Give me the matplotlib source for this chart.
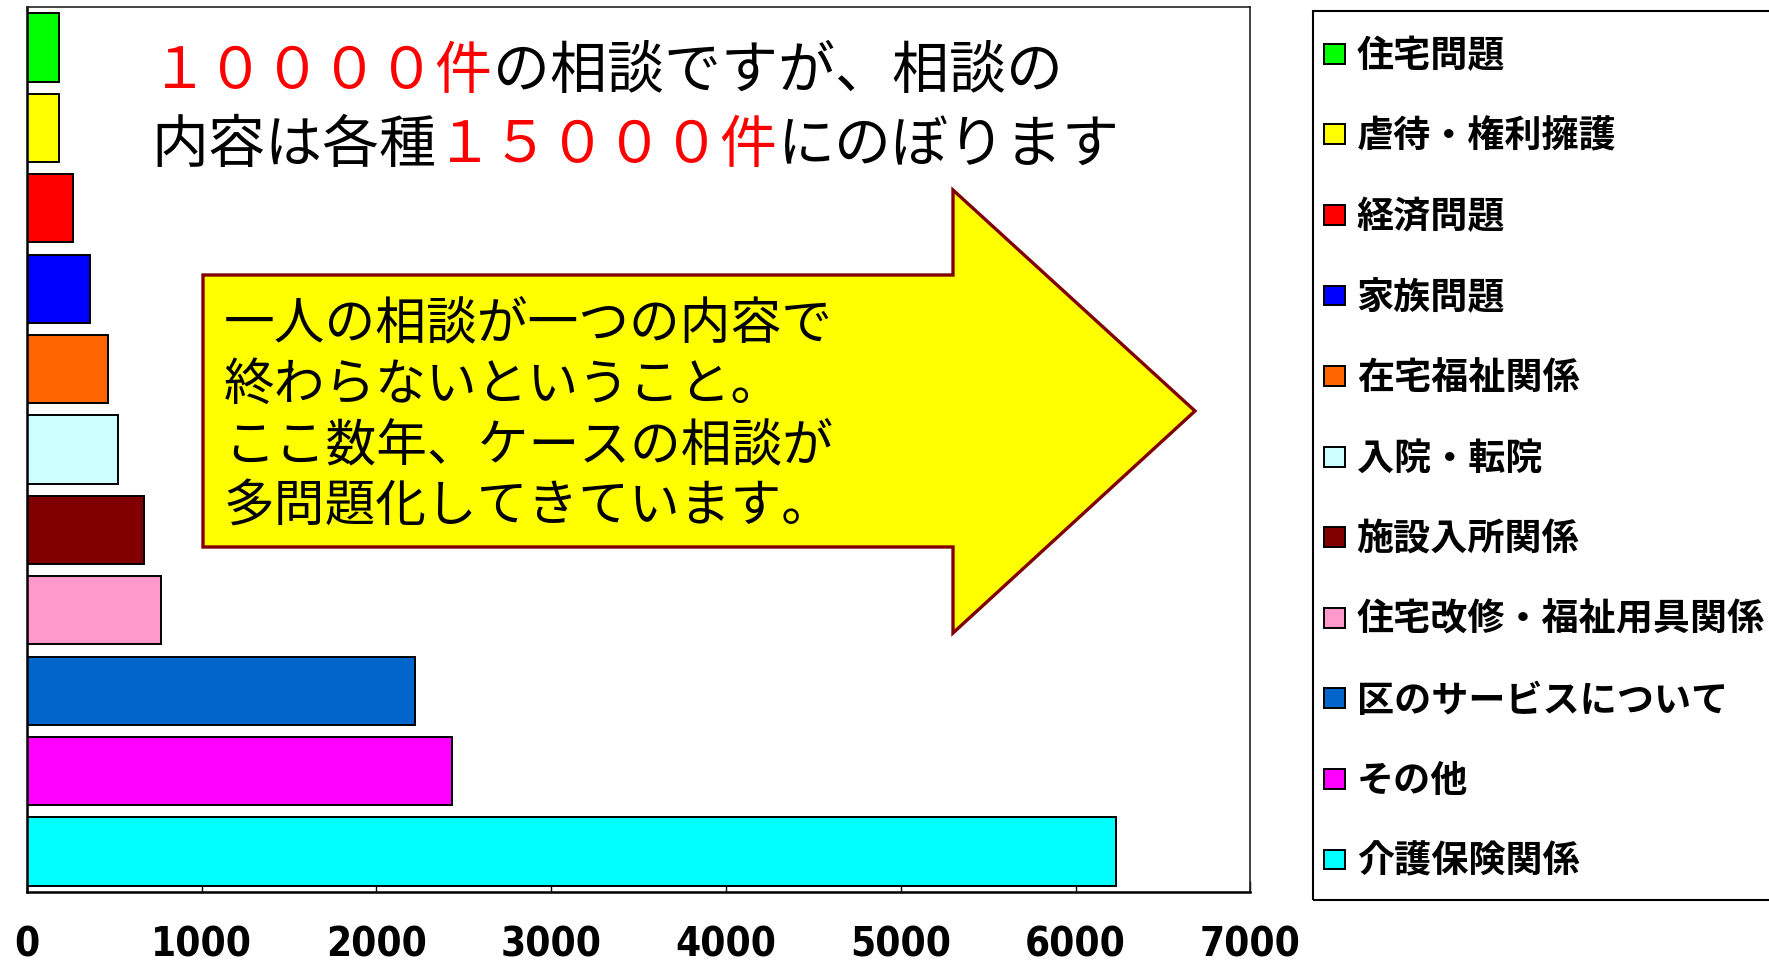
import matplotlib
matplotlib.use('Agg')
import matplotlib.pyplot as plt
from matplotlib import font_manager
from matplotlib.font_manager import FontProperties
from matplotlib.patches import Polygon, Rectangle

# ---------------- data ----------------
categories = ['住宅問題', '虐待・権利擁護', '経済問題', '家族問題', '在宅福祉関係',
              '入院・転院', '施設入所関係', '住宅改修・福祉用具関係',
              '区のサービスについて', 'その他', '介護保険関係']
values = [183, 183, 263, 364, 465, 521, 669, 770, 2220, 2431, 6232]
colors = ['#00FF00', '#FFFF00', '#FF0000', '#0000FF', '#FF6600', '#CCFFFF',
          '#800000', '#FF99CC', '#0066CC', '#FF00FF', '#00FFFF']
xticks = [0, 1000, 2000, 3000, 4000, 5000, 6000, 7000]
xtick_labels = ['0', '1000', '2000', '3000', '4000', '5000', '6000', '7000']

title_line1 = [('１００００件', '#FF0000'), ('の相談ですが、相談の', '#000000')]
title_line2 = [('内容は各種', '#000000'), ('１５０００件', '#FF0000'), ('にのぼります', '#000000')]
arrow_lines = ['一人の相談が一つの内容で', '終わらないということ。',
               'ここ数年、ケースの相談が', '多問題化してきています。']

# ---------------- fonts ----------------
names = {f.name for f in font_manager.fontManager.ttflist}
if 'Liberation Sans Narrow' in names:
    tick_fp = FontProperties(family='Liberation Sans Narrow', weight='bold', size=31)
else:
    tick_fp = FontProperties(family='DejaVu Sans', stretch='condensed', weight='bold', size=29)

JP = 'Noto Sans CJK JP'

W, H = 1769, 965
fig = plt.figure(figsize=(W / 100, H / 100), dpi=100)
fig.patch.set_facecolor('white')

ax_l, ax_r, ax_t, ax_b = 26.7, 1250.3, 7.3, 891.7
ax = fig.add_axes([ax_l / W, 1 - ax_b / H, (ax_r - ax_l) / W, (ax_b - ax_t) / H])

n = len(categories)
ypos = list(range(n))
bars = ax.barh(ypos, values, height=0.85, color=colors, edgecolor='black',
               linewidth=1.4, zorder=2)
ax.set_ylim(n - 0.5, -0.5)
ax.set_xlim(xticks[0], xticks[-1])
ax.set_yticks([])
ax.set_xticks(xticks)
ax.set_xticklabels(xtick_labels, fontproperties=tick_fp)
ax.tick_params(axis='x', direction='in', length=8, width=1, pad=24, colors='black')
for side in ['left', 'bottom']:
    ax.spines[side].set_linewidth(1.8)
for side in ['top', 'right']:
    ax.spines[side].set_linewidth(1.2)
    ax.spines[side].set_color('#222222')

# ---------------- title text with coloured runs ----------------
def draw_runs(x, y, runs, size):
    t = ax.text(x, y, runs[0][0], color=runs[0][1], transform=ax.transAxes,
                ha='left', va='center', family=JP, fontsize=size, zorder=5)
    for s, c in runs[1:]:
        t = ax.annotate(s, xy=(1, 0), xycoords=t, ha='left', va='bottom',
                        color=c, family=JP, fontsize=size, zorder=5)

def fy(py):
    return (ax_b - py) / (ax_b - ax_t)

def fx(px):
    return (px - ax_l) / (ax_r - ax_l)

draw_runs(fx(151), fy(72), title_line1, 41)
draw_runs(fx(151), fy(146), title_line2, 41)

# ---------------- arrow ----------------
arrow_pts = [(fx(203), fy(275)), (fx(953), fy(275)), (fx(953), fy(190)),
             (fx(1195), fy(411)), (fx(953), fy(633)), (fx(953), fy(547)),
             (fx(203), fy(547))]
ax.add_patch(Polygon(arrow_pts, closed=True, transform=ax.transAxes,
                     facecolor='#FFFF00', edgecolor='#800000', linewidth=2.4,
                     joinstyle='miter', zorder=4))
for i, line in enumerate(arrow_lines):
    ax.text(fx(224), fy(325 + 61 * i), line, transform=ax.transAxes,
            ha='left', va='center', family=JP, fontsize=36.5, color='black', zorder=6)

# ---------------- legend ----------------
lx, ltop, lbot = 1312.6, 11.3, 899.5
fig.add_artist(Rectangle((lx / W, 1 - lbot / H), 0.5, (lbot - ltop) / H,
                         transform=fig.transFigure, fill=False,
                         edgecolor='black', linewidth=1.5))
leg_fp = FontProperties(family=JP, weight='bold', size=26.7)
ax.legend(bars, categories, loc='upper left', bbox_to_anchor=(1324 / W, 1 - 38 / H),
          bbox_transform=fig.transFigure, frameon=False, prop=leg_fp,
          handlelength=0.56, handleheight=0.45, handletextpad=0.32,
          labelspacing=1.175, borderpad=0, borderaxespad=0)

fig.savefig('out.png', dpi=100, facecolor='white')
